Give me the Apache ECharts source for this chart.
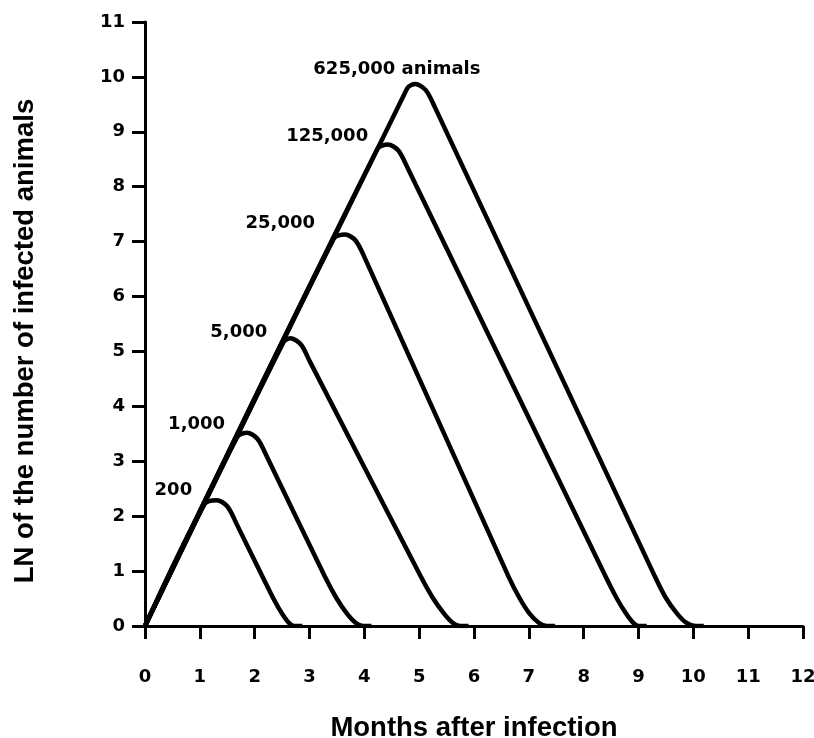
<!DOCTYPE html>
<html>
<head>
<meta charset="utf-8">
<script src="https://cdn.jsdelivr.net/npm/echarts@6/dist/echarts.min.js"></script>
<style>
  html, body { margin: 0; padding: 0; background: #fff; }
  #chart { width: 814px; height: 738px; }
</style>
</head>
<body>
<div id="chart"></div>
<script>
// curve names (infected herd size at peak)
var curveNames = ['200', '1,000', '5,000', '25,000', '125,000', '625,000 animals'];

// [months, LN of infected animals]
var c200    = [[0, 0], [1.08, 2.21], [1.31, 2.29], [1.5, 2.18], [1.67, 1.86], [2.29, 0.6], [2.43, 0.34], [2.55, 0.15], [2.64, 0.04], [2.72, 0], [2.87, 0]];
var c1000   = [[0, 0], [1.68, 3.44], [1.86, 3.52], [2.05, 3.41], [2.22, 3.09], [3.28, 0.9], [3.49, 0.51], [3.68, 0.23], [3.84, 0.06], [3.98, 0], [4.13, 0]];
var c5000   = [[0, 0], [2.52, 5.16], [2.65, 5.24], [2.84, 5.13], [3.01, 4.81], [5.03, 0.9], [5.25, 0.51], [5.45, 0.23], [5.61, 0.06], [5.75, 0], [5.9, 0]];
var c25000  = [[0, 0], [3.44, 7.05], [3.65, 7.13], [3.84, 7.02], [4.01, 6.7], [6.63, 0.9], [6.83, 0.51], [7.01, 0.23], [7.18, 0.06], [7.33, 0], [7.48, 0]];
var c125000 = [[0, 0], [4.24, 8.69], [4.43, 8.77], [4.62, 8.66], [4.79, 8.34], [8.4, 0.9], [8.6, 0.51], [8.77, 0.23], [8.9, 0.06], [9.0, 0], [9.15, 0]];
var c625000 = [[0, 0], [4.78, 9.79], [4.93, 9.87], [5.12, 9.76], [5.29, 9.44], [9.3, 0.9], [9.5, 0.51], [9.7, 0.23], [9.87, 0.06], [10.04, 0], [10.19, 0]];
var curves = [c200, c1000, c5000, c25000, c125000, c625000];

// where each curve's label sits (axis units)
var labelAt = [[0.86, 2.47], [1.46, 3.68], [2.23, 5.34], [3.10, 7.33], [4.07, 8.91], [3.07, 10.13]];
var labelSide = ['left', 'left', 'left', 'left', 'left', 'right'];

var chart = echarts.init(document.getElementById('chart'));

var series = curves.map(function (pts, i) {
    return {
        type: 'line',
        name: curveNames[i],
        data: pts,
        smooth: 0.3,
        symbol: 'none',
        lineStyle: { color: '#000', width: 4.5 },
        markPoint: {
            symbol: 'circle',
            symbolSize: 0,
            data: [{ coord: labelAt[i], value: curveNames[i] }],
            label: {
                show: true,
                position: labelSide[i],
                distance: 0,
                formatter: curveNames[i],
                color: '#000',
                fontFamily: 'DejaVu Sans',
                fontWeight: 'bold',
                fontSize: 18
            }
        }
    };
});

var option = {
    animation: false,
    grid: { left: 145, right: 11, top: 22, bottom: 112, outerBoundsMode: 'none', containLabel: false },
    xAxis: {
        type: 'value',
        min: 0, max: 12, interval: 1,
        name: 'Months after infection',
        nameLocation: 'middle',
        nameGap: 88,
        nameTextStyle: { fontFamily: 'Liberation Sans', fontWeight: 'bold', fontSize: 27.5, color: '#000' },
        axisLine: { lineStyle: { color: '#000', width: 3 } },
        axisTick: { length: 13, lineStyle: { color: '#000', width: 3 } },
        axisLabel: { margin: 42, color: '#000', fontFamily: 'DejaVu Sans', fontWeight: 'bold', fontSize: 18 },
        splitLine: { show: false }
    },
    yAxis: {
        type: 'value',
        min: 0, max: 11, interval: 1,
        name: 'LN of the number of infected animals',
        nameLocation: 'middle',
        nameGap: 106,
        nameTextStyle: { fontFamily: 'Liberation Sans', fontWeight: 'bold', fontSize: 27.5, color: '#000', padding: [0, 34, 0, 0] },
        axisLine: { lineStyle: { color: '#000', width: 3 } },
        axisTick: { length: 13, lineStyle: { color: '#000', width: 3 } },
        axisLabel: { margin: 20, color: '#000', fontFamily: 'DejaVu Sans', fontWeight: 'bold', fontSize: 18 },
        splitLine: { show: false }
    },
    series: series
};

chart.setOption(option);
</script>
</body>
</html>
